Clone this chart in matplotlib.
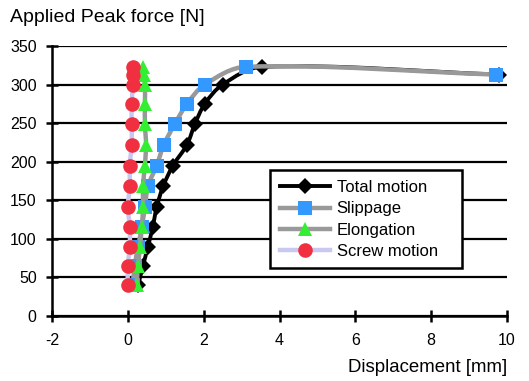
import numpy as np
import matplotlib.pyplot as plt
from matplotlib.path import Path
from matplotlib.patches import PathPatch, Rectangle
from matplotlib.lines import Line2D

plt.rcParams['font.family'] = ['Liberation Sans', 'DejaVu Sans']
plt.rcParams['axes.unicode_minus'] = False

# applied force levels [N]
force = [40, 65, 90, 116, 141, 168, 195, 222, 249, 275, 300, 323, 313]

# displacement [mm] per component
total_motion = [0.27, 0.40, 0.53, 0.66, 0.76, 0.93, 1.19, 1.56, 1.77, 2.03, 2.50, 3.54, 9.80]
slippage = [0.13, 0.18, 0.27, 0.37, 0.45, 0.53, 0.76, 0.95, 1.24, 1.56, 2.03, 3.11, 9.70]
elongation = [0.23, 0.27, 0.32, 0.37, 0.40, 0.40, 0.45, 0.48, 0.45, 0.45, 0.45, 0.40, 0.42]
screw_motion = [0.00, 0.00, 0.05, 0.05, 0.00, 0.05, 0.05, 0.10, 0.10, 0.10, 0.13, 0.13, 0.13]

# rough pixels per data unit, only used to shape the smoothed curve
SX, SY = 37.9, 0.771


def smooth_path(x, y):
    # smoothed line: cubic bezier through the points, tangents in screen space
    p = np.column_stack([np.array(x) * SX, np.array(y) * SY])
    n = len(p)
    tang = []
    for i in range(n):
        a = p[max(i - 1, 0)]
        b = p[min(i + 1, n - 1)]
        d = b - a
        tang.append(d / np.hypot(*d))
    verts = [p[0]]
    codes = [Path.MOVETO]
    for i in range(n - 1):
        L = np.hypot(*(p[i + 1] - p[i]))
        c1 = p[i] + tang[i] * L / 3
        c2 = p[i + 1] - tang[i + 1] * L / 3
        verts += [c1, c2, p[i + 1]]
        codes += [Path.CURVE4] * 3
    verts = np.array(verts) / [SX, SY]
    return Path(verts, codes)


fig = plt.figure(figsize=(5.29, 3.81), dpi=100)
ax = fig.add_axes([52 / 529, 1 - 316 / 381, 455 / 529, 270 / 381])

series = [
    ("Total motion", total_motion, 'black', 2.8, 'D', 'black', 8.5),
    ("Slippage", slippage, '#999999', 3.2, 's', '#3399FF', 10),
    ("Elongation", elongation, '#999999', 3.2, '^', '#33EE33', 10.5),
    ("Screw motion", screw_motion, '#C8C8F0', 3.2, 'o', '#F03040', 10.5),
]

handles = []
for k, (name, xs, lc, lw, mk, mc, ms) in enumerate(series):
    patch = PathPatch(smooth_path(xs, force), fill=False, edgecolor=lc, lw=lw,
                      zorder=3 + 2 * k)
    ax.add_patch(patch)
    ax.plot(xs, force, linestyle='none', marker=mk, color=mc, markersize=ms,
            markeredgewidth=0, zorder=4 + 2 * k)
    handles.append(Line2D([], [], color=lc, lw=lw, marker=mk, markerfacecolor=mc,
                          markeredgewidth=0, markersize=ms, label=name))

ax.set_xlim(-2, 10)
ax.set_ylim(0, 350)
ax.set_xticks(np.arange(-2, 11, 2))
ax.set_yticks(np.arange(0, 351, 50))
ax.yaxis.grid(True, color='black', lw=1.6)
ax.set_axisbelow(True)
for s in ['top', 'right']:
    ax.spines[s].set_visible(False)
for s in ['left', 'bottom']:
    ax.spines[s].set_linewidth(1.8)
ax.tick_params(direction='inout', length=8, width=1.8, labelsize=11.5)
ax.tick_params(axis='x', pad=8)
ax.tick_params(axis='y', pad=7)

fig.text(10 / 529, 1 - 18 / 381, "Applied Peak force [N]", fontsize=14,
         ha='left', va='center')
fig.text(507 / 529, 1 - 368 / 381, "Displacement [mm]", fontsize=13.4,
         ha='right', va='center')

# legend entries without frame, frame drawn as its own box below them
leg = ax.legend(handles=handles, loc='upper left',
                bbox_to_anchor=(280 / 529, 1 - 180 / 381),
                bbox_transform=fig.transFigure, fontsize=12, frameon=False,
                handlelength=3, labelspacing=0.38, borderpad=0,
                borderaxespad=0, handletextpad=0.4)
leg.set_zorder(20)
ax.add_patch(Rectangle((270 / 529, 1 - 268 / 381), 192 / 529, 98 / 381,
                       transform=fig.transFigure, facecolor='white',
                       edgecolor='black', lw=1.8, zorder=15, clip_on=False))

plt.savefig('out.png')
